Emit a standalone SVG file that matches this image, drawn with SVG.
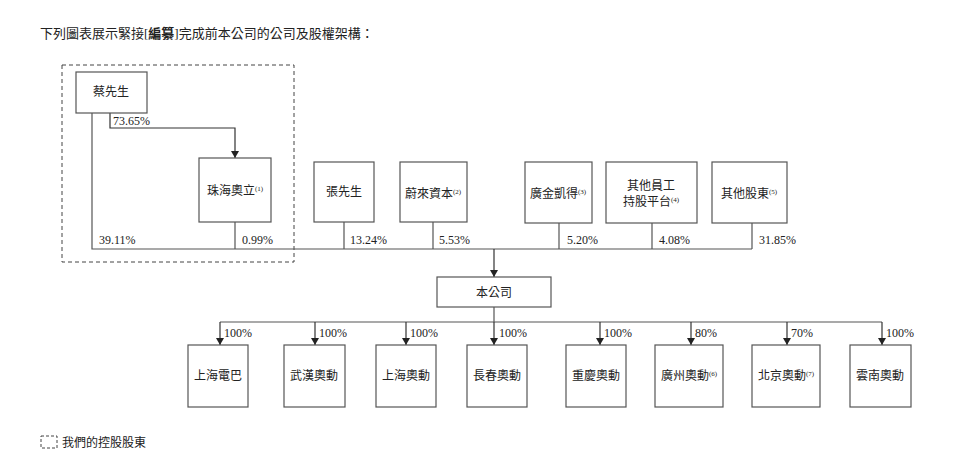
<svg xmlns="http://www.w3.org/2000/svg" width="960" height="465" viewBox="0 0 960 465">
<defs>
<marker id="ah" markerWidth="8" markerHeight="8" refX="7" refY="4" orient="auto" markerUnits="userSpaceOnUse"><path d="M0,0 L7,4 L0,8 Z" fill="#222"/></marker>
<style>
.b{fill:#fff;stroke:#555;stroke-width:1.2}
.t{font-family:"Liberation Serif","Noto Sans CJK TC",serif;font-size:12px;fill:#222}
.c{text-anchor:middle}
.s{font-size:7px}
.l{fill:none;stroke:#555;stroke-width:1.2}
.a{fill:none;stroke:#333;stroke-width:1.2;marker-end:url(#ah)}
</style>
</defs>
<rect width="960" height="465" fill="#fff"/>
<text class="t" x="40" y="38" style="font-size:13px">下列圖表展示緊接[<tspan font-weight="bold">編纂</tspan>]完成前本公司的公司及股權架構：</text>
<rect x="62" y="65" width="232" height="197" fill="none" stroke="#444" stroke-dasharray="4,3"/>
<g id="connectors">
<path class="l" d="M92,113 V249 H752 M235,222 V249 M344,222 V249 M433,222 V249 M559,223 V249 M652,223 V249 M752,223 V249"/>
<path class="a" d="M110,113 V128 H235 V158"/>
<path class="a" d="M494,249 V277"/>
<path class="l" d="M494,307 V322 M220,322 H882"/>
<path class="a" d="M220,322 V345"/><path class="a" d="M315,322 V345"/><path class="a" d="M406,322 V345"/><path class="a" d="M494,322 V345"/>
<path class="a" d="M600,322 V345"/><path class="a" d="M691,322 V345"/><path class="a" d="M787,322 V345"/><path class="a" d="M882,322 V345"/>
</g>
<g class="t">
<text x="113" y="125">73.65%</text>
<text x="99" y="244">39.11%</text><text x="242" y="244">0.99%</text>
<text x="350" y="244">13.24%</text><text x="439" y="244">5.53%</text>
<text x="567" y="244">5.20%</text><text x="659" y="244">4.08%</text><text x="759" y="244">31.85%</text>
<text x="224" y="337">100%</text><text x="319" y="337">100%</text><text x="410" y="337">100%</text><text x="499" y="337">100%</text>
<text x="604" y="337">100%</text><text x="695" y="337">80%</text><text x="791" y="337">70%</text><text x="886" y="337">100%</text>
</g>
<g id="n-cai"><rect class="b" x="76" y="72" width="71" height="41"/><text class="t c" x="111" y="96">蔡先生</text></g>
<g id="n-zhuhai"><rect class="b" x="199" y="158" width="72" height="64"/><text class="t c" x="235" y="195">珠海奧立<tspan class="s" dy="-4">(1)</tspan></text></g>
<g id="n-zhang"><rect class="b" x="314" y="162" width="60" height="60"/><text class="t c" x="344" y="196">張先生</text></g>
<g id="n-nio"><rect class="b" x="400" y="162" width="67" height="60"/><text class="t c" x="433" y="198">蔚來資本<tspan class="s" dy="-4">(2)</tspan></text></g>
<g id="n-gj"><rect class="b" x="525" y="162" width="67" height="61"/><text class="t c" x="558" y="198">廣金凱得<tspan class="s" dy="-4">(3)</tspan></text></g>
<g id="n-esop"><rect class="b" x="606" y="162" width="91" height="61"/><text class="t c" x="651" y="190">其他員工</text><text class="t c" x="651" y="206">持股平台<tspan class="s" dy="-4">(4)</tspan></text></g>
<g id="n-other"><rect class="b" x="712" y="162" width="75" height="61"/><text class="t c" x="749" y="198">其他股東<tspan class="s" dy="-4">(5)</tspan></text></g>
<g id="n-co"><rect class="b" x="437" y="277" width="114" height="30"/><text class="t c" x="494" y="297">本公司</text></g>
<g id="s1"><rect class="b" x="188" y="345" width="60" height="62"/><text class="t c" x="218" y="380">上海電巴</text></g>
<g id="s2"><rect class="b" x="284" y="345" width="61" height="62"/><text class="t c" x="314" y="380">武漢奧動</text></g>
<g id="s3"><rect class="b" x="376" y="345" width="60" height="62"/><text class="t c" x="406" y="380">上海奧動</text></g>
<g id="s4"><rect class="b" x="467" y="345" width="60" height="62"/><text class="t c" x="497" y="380">長春奧動</text></g>
<g id="s5"><rect class="b" x="566" y="345" width="60" height="62"/><text class="t c" x="596" y="380">重慶奧動</text></g>
<g id="s6"><rect class="b" x="655" y="345" width="68" height="62"/><text class="t c" x="689" y="380">廣州奧動<tspan class="s" dy="-4">(6)</tspan></text></g>
<g id="s7"><rect class="b" x="752" y="345" width="68" height="62"/><text class="t c" x="786" y="380">北京奧動<tspan class="s" dy="-4">(7)</tspan></text></g>
<g id="s8"><rect class="b" x="850" y="345" width="61" height="62"/><text class="t c" x="880" y="380">雲南奧動</text></g>
<rect x="41" y="436" width="16" height="12" fill="none" stroke="#444" stroke-dasharray="3,2"/>
<text class="t" x="62" y="447">我們的控股股東</text>
</svg>
